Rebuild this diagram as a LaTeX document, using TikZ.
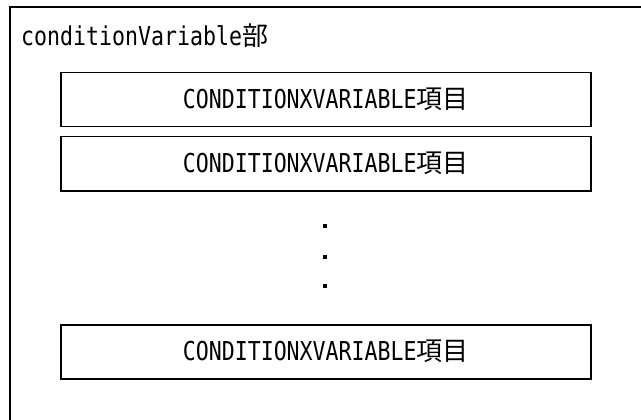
\documentclass[tikz,border=0pt]{standalone}
\usepackage{fontspec}
\newfontfamily\monofnt[FakeStretch=0.83]{DejaVu Sans Mono}
\newfontfamily\jpfnt{Noto Sans CJK JP}
\newcommand\jp[1]{{\jpfnt #1}}
\begin{document}
\begin{tikzpicture}[x=1pt,y=-1pt,
  every node/.style={font=\fontsize{26}{26}\selectfont\monofnt},
  itembox/.style={draw=black,line width=1.5pt,minimum width=530pt,minimum height=54pt,
    inner sep=0pt,text height=19pt,text depth=1pt,anchor=north west},
  frameline/.style={draw=black,line width=2pt},
  dotmark/.style={fill=black}]
\useasboundingbox (0,0) rectangle (641,420);
\begin{scope}
\clip (0,0) rectangle (641,420);
\draw[frameline] (9.5,430) -- (9.5,7.5) -- (650,7.5);
\end{scope}
\node[anchor=base west,inner sep=0pt] (title) at (21,46) {conditionVariable\jp{部}};
\node[itembox] (item1) at (60,72) {CONDITIONXVARIABLE\jp{項目}};
\node[itembox] (item2) at (60,136) {CONDITIONXVARIABLE\jp{項目}};
\node[itembox] (item3) at (60,324) {CONDITIONXVARIABLE\jp{項目}};
\fill[dotmark] (323,224) rectangle (327,228);
\fill[dotmark] (323,255) rectangle (327,259);
\fill[dotmark] (323,284) rectangle (327,288);
\end{tikzpicture}
\end{document}
